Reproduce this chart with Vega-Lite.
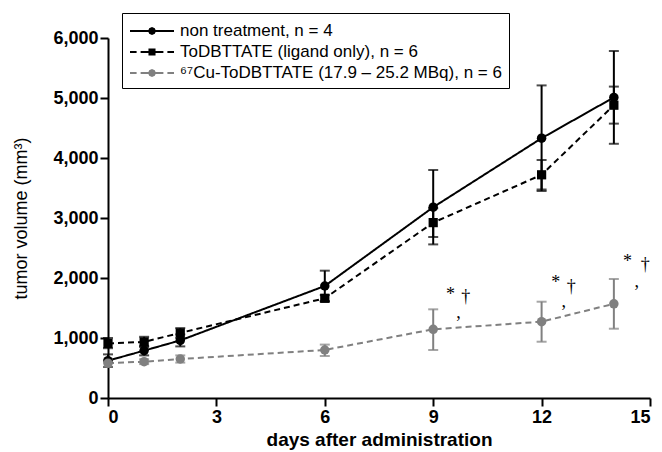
{
  "$schema": "https://vega.github.io/schema/vega-lite/v6.json",
  "width": 542,
  "height": 360,
  "autosize": {"type": "none"},
  "padding": {"left": 108, "top": 38, "right": 12, "bottom": 54},
  "background": "white",
  "config": {
    "view": {"stroke": null},
    "font": "Liberation Sans",
    "axis": {
      "grid": false,
      "domainColor": "black",
      "domainWidth": 2,
      "tickColor": "black",
      "tickWidth": 2,
      "tickSize": 8,
      "labelColor": "black",
      "labelFont": "Liberation Sans",
      "labelFontWeight": "bold",
      "labelFontSize": 18,
      "labelPadding": 2,
      "titleColor": "black",
      "titleFont": "Liberation Sans"
    },
    "axisX": {"titleFontSize": 19, "titleFontWeight": "bold", "titlePadding": 4},
    "axisY": {"titleFontSize": 18, "titleFontWeight": "normal", "titlePadding": 22},
    "legend": {
      "labelFont": "Liberation Sans",
      "labelFontSize": 17,
      "labelColor": "black"
    }
  },
  "datasets": {
    "series": [
      {"series": "non treatment, n = 4", "day": 0, "vol": 622, "lo": 517, "hi": 727},
      {"series": "non treatment, n = 4", "day": 1, "vol": 790, "lo": 710, "hi": 870},
      {"series": "non treatment, n = 4", "day": 2, "vol": 960, "lo": 860, "hi": 1060},
      {"series": "non treatment, n = 4", "day": 6, "vol": 1867, "lo": 1612, "hi": 2122},
      {"series": "non treatment, n = 4", "day": 9, "vol": 3180, "lo": 2560, "hi": 3800},
      {"series": "non treatment, n = 4", "day": 12, "vol": 4330, "lo": 3450, "hi": 5210},
      {"series": "non treatment, n = 4", "day": 14, "vol": 5010, "lo": 4237, "hi": 5783},
      {"series": "ToDBTTATE (ligand only), n = 6", "day": 0, "vol": 910, "lo": 830, "hi": 1000},
      {"series": "ToDBTTATE (ligand only), n = 6", "day": 1, "vol": 935, "lo": 850, "hi": 1020},
      {"series": "ToDBTTATE (ligand only), n = 6", "day": 2, "vol": 1085, "lo": 1000, "hi": 1165},
      {"series": "ToDBTTATE (ligand only), n = 6", "day": 6, "vol": 1662, "lo": 1610, "hi": 1715},
      {"series": "ToDBTTATE (ligand only), n = 6", "day": 9, "vol": 2923, "lo": 2683, "hi": 3163},
      {"series": "ToDBTTATE (ligand only), n = 6", "day": 12, "vol": 3720, "lo": 3475, "hi": 3967},
      {"series": "ToDBTTATE (ligand only), n = 6", "day": 14, "vol": 4880, "lo": 4573, "hi": 5190},
      {"series": "⁶⁷Cu-ToDBTTATE (17.9 – 25.2 MBq), n = 6", "day": 0, "vol": 580, "lo": 520, "hi": 640},
      {"series": "⁶⁷Cu-ToDBTTATE (17.9 – 25.2 MBq), n = 6", "day": 1, "vol": 605, "lo": 565, "hi": 645},
      {"series": "⁶⁷Cu-ToDBTTATE (17.9 – 25.2 MBq), n = 6", "day": 2, "vol": 650, "lo": 590, "hi": 710},
      {"series": "⁶⁷Cu-ToDBTTATE (17.9 – 25.2 MBq), n = 6", "day": 6, "vol": 800, "lo": 700, "hi": 890},
      {"series": "⁶⁷Cu-ToDBTTATE (17.9 – 25.2 MBq), n = 6", "day": 9, "vol": 1145, "lo": 800, "hi": 1478},
      {"series": "⁶⁷Cu-ToDBTTATE (17.9 – 25.2 MBq), n = 6", "day": 12, "vol": 1272, "lo": 938, "hi": 1605},
      {"series": "⁶⁷Cu-ToDBTTATE (17.9 – 25.2 MBq), n = 6", "day": 14, "vol": 1570, "lo": 1155, "hi": 1983}
    ],
    "annot": [
      {"day": 9.48, "vol": 1717, "sym": "*"},
      {"day": 9.9, "vol": 1683, "sym": "†"},
      {"day": 9.7, "vol": 1417, "sym": ","},
      {"day": 12.39, "vol": 1912, "sym": "*"},
      {"day": 12.82, "vol": 1855, "sym": "†"},
      {"day": 12.61, "vol": 1605, "sym": ","},
      {"day": 14.38, "vol": 2272, "sym": "*"},
      {"day": 14.87, "vol": 2217, "sym": "†"},
      {"day": 14.63, "vol": 1938, "sym": ","}
    ]
  },
  "layer": [
    {
      "data": {"name": "series"},
      "mark": {"type": "line", "strokeWidth": 2},
      "encoding": {
        "x": {
          "field": "day", "type": "quantitative",
          "scale": {"domain": [0, 15], "nice": false},
          "axis": {"values": [0, 3, 6, 9, 12, 15], "title": "days after administration"}
        },
        "y": {
          "field": "vol", "type": "quantitative",
          "scale": {"domain": [0, 6000], "nice": false},
          "axis": {"values": [0, 1000, 2000, 3000, 4000, 5000, 6000], "format": ",d", "title": "tumor volume (mm³)"}
        },
        "color": {"field": "series", "type": "nominal", "legend": null, "sort": "ascending",
          "scale": {"range": ["black", "black", "#808080"]}},
        "strokeDash": {"field": "series", "type": "nominal", "legend": null, "sort": "ascending",
          "scale": {"range": [[6, 4], [1, 0], [6, 4]]}},
        "order": {"field": "day", "type": "quantitative"}
      }
    },
    {
      "data": {"name": "series"},
      "mark": {"type": "rule", "strokeWidth": 2},
      "encoding": {
        "x": {"field": "day", "type": "quantitative"},
        "y": {"field": "lo", "type": "quantitative"},
        "y2": {"field": "hi"},
        "color": {"field": "series", "type": "nominal", "legend": null, "sort": "ascending"}
      }
    },
    {
      "data": {"name": "series"},
      "mark": {"type": "tick", "orient": "horizontal", "size": 10, "thickness": 2},
      "encoding": {
        "x": {"field": "day", "type": "quantitative"},
        "y": {"field": "lo", "type": "quantitative"},
        "color": {"field": "series", "type": "nominal", "legend": null, "sort": "ascending"}
      }
    },
    {
      "data": {"name": "series"},
      "mark": {"type": "tick", "orient": "horizontal", "size": 10, "thickness": 2},
      "encoding": {
        "x": {"field": "day", "type": "quantitative"},
        "y": {"field": "hi", "type": "quantitative"},
        "color": {"field": "series", "type": "nominal", "legend": null, "sort": "ascending"}
      }
    },
    {
      "data": {"name": "series"},
      "transform": [{"filter": "datum.series != 'ToDBTTATE (ligand only), n = 6'"}],
      "mark": {"type": "point", "shape": "circle", "filled": true, "size": 90, "opacity": 1},
      "encoding": {
        "x": {"field": "day", "type": "quantitative"},
        "y": {"field": "vol", "type": "quantitative"},
        "color": {"field": "series", "type": "nominal", "legend": null, "sort": "ascending"}
      }
    },
    {
      "data": {"name": "series"},
      "transform": [{"filter": "datum.series == 'ToDBTTATE (ligand only), n = 6'"}],
      "mark": {"type": "point", "shape": "square", "filled": true, "size": 85, "opacity": 1},
      "encoding": {
        "x": {"field": "day", "type": "quantitative"},
        "y": {"field": "vol", "type": "quantitative"},
        "color": {"field": "series", "type": "nominal", "legend": null, "sort": "ascending"}
      }
    },
    {
      "data": {"name": "series"},
      "transform": [{"filter": "datum.day > 100"}],
      "mark": {"type": "point", "filled": false, "size": 400, "strokeWidth": 2, "opacity": 1},
      "encoding": {
        "x": {"field": "day", "type": "quantitative"},
        "y": {"field": "vol", "type": "quantitative"},
        "shape": {"field": "series", "type": "nominal",
          "scale": {"domain": ["non treatment, n = 4", "ToDBTTATE (ligand only), n = 6", "⁶⁷Cu-ToDBTTATE (17.9 – 25.2 MBq), n = 6"],
            "range": [
              "M-1,0H3.4M1.49,0L1.405,0.205L1.2,0.29L0.995,0.205L0.91,0L0.995,-0.205L1.2,-0.29L1.405,-0.205Z",
              "M-1,0H-0.34M0.06,0H2.34M2.74,0H3.4M0.947,-0.253H1.453V0.253H0.947Z",
              "M-1,0H-0.34M0.06,0H2.34M2.74,0H3.4M1.49,0L1.405,0.205L1.2,0.29L0.995,0.205L0.91,0L0.995,-0.205L1.2,-0.29L1.405,-0.205Z"
            ]},
          "legend": {
            "title": null,
            "orient": "none",
            "legendX": 14,
            "legendY": -25,
            "strokeColor": "black",
            "padding": 7,
            "symbolSize": 400,
            "labelOffset": 29,
            "labelLimit": 500,
            "symbolStrokeWidth": 2,
            "rowPadding": 2
          }
        },
        "stroke": {"field": "series", "type": "nominal",
          "scale": {"domain": ["non treatment, n = 4", "ToDBTTATE (ligand only), n = 6", "⁶⁷Cu-ToDBTTATE (17.9 – 25.2 MBq), n = 6"], "range": ["black", "black", "#808080"]}},
        "fill": {"field": "series", "type": "nominal",
          "scale": {"domain": ["non treatment, n = 4", "ToDBTTATE (ligand only), n = 6", "⁶⁷Cu-ToDBTTATE (17.9 – 25.2 MBq), n = 6"], "range": ["black", "black", "#808080"]}}
      }
    },
    {
      "data": {"name": "annot"},
      "mark": {"type": "text", "font": "Liberation Serif", "fontSize": 18, "fill": "black", "baseline": "middle", "align": "center"},
      "encoding": {
        "x": {"field": "day", "type": "quantitative"},
        "y": {"field": "vol", "type": "quantitative"},
        "text": {"field": "sym", "type": "nominal"}
      }
    }
  ]
}
